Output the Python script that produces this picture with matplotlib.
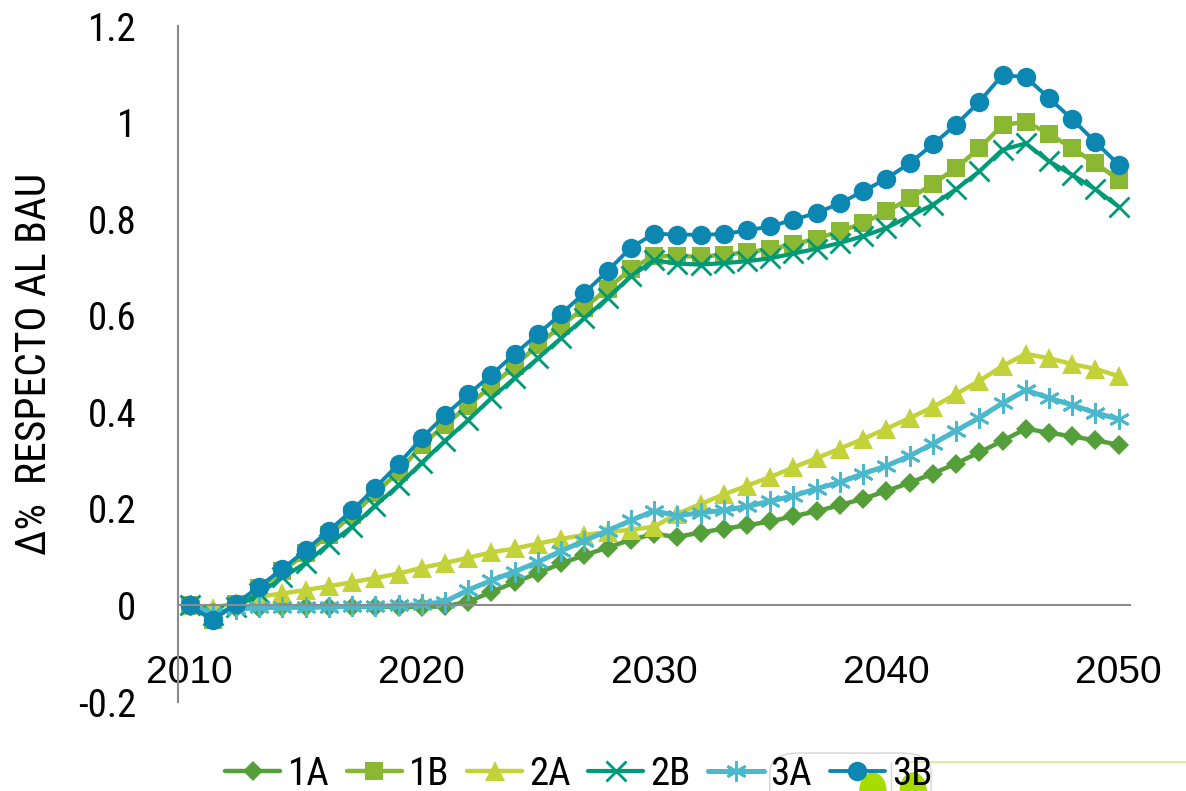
import matplotlib
matplotlib.use("Agg")
import matplotlib.pyplot as plt
from matplotlib.patches import Ellipse, FancyBboxPatch
from matplotlib.lines import Line2D

# ---- data -------------------------------------------------------------
years = list(range(2010, 2051))

s_1A = [0, -0.02, -0.006, -0.005, -0.004, -0.004, -0.003, -0.003, -0.003, -0.003,
        -0.003, -0.002, 0.008, 0.028, 0.048, 0.067, 0.087, 0.104, 0.12, 0.136,
        0.148, 0.142, 0.151, 0.159, 0.166, 0.174, 0.185, 0.195, 0.208, 0.221,
        0.237, 0.254, 0.273, 0.294, 0.317, 0.341, 0.366, 0.358, 0.35, 0.342, 0.333]

s_1B = [0, -0.03, 0.003, 0.036, 0.071, 0.108, 0.146, 0.187, 0.232, 0.277,
        0.332, 0.374, 0.414, 0.455, 0.496, 0.54, 0.579, 0.617, 0.656, 0.697,
        0.724, 0.723, 0.723, 0.726, 0.732, 0.738, 0.748, 0.76, 0.775, 0.792,
        0.816, 0.843, 0.873, 0.906, 0.947, 0.995, 1.002, 0.977, 0.947, 0.916, 0.882]

s_2A = [0, -0.005, 0.005, 0.018, 0.025, 0.032, 0.04, 0.048, 0.057, 0.066,
        0.078, 0.088, 0.099, 0.11, 0.118, 0.128, 0.138, 0.146, 0.152, 0.157,
        0.163, 0.19, 0.21, 0.23, 0.248, 0.266, 0.286, 0.305, 0.325, 0.345,
        0.366, 0.388, 0.411, 0.438, 0.465, 0.496, 0.521, 0.512, 0.5, 0.49, 0.475]

s_2B = [0, -0.02, -0.004, 0.025, 0.058, 0.088, 0.127, 0.163, 0.207, 0.249,
        0.296, 0.341, 0.384, 0.43, 0.471, 0.512, 0.554, 0.595, 0.637, 0.682,
        0.715, 0.708, 0.706, 0.709, 0.713, 0.719, 0.729, 0.739, 0.751, 0.765,
        0.782, 0.806, 0.83, 0.862, 0.899, 0.944, 0.957, 0.92, 0.892, 0.862, 0.826]

s_3A = [0, -0.015, -0.008, -0.004, -0.004, -0.003, -0.003, -0.002, -0.002, 0.0,
        0.002, 0.008, 0.032, 0.052, 0.07, 0.09, 0.113, 0.134, 0.155, 0.176,
        0.196, 0.186, 0.192, 0.197, 0.205, 0.216, 0.227, 0.242, 0.255, 0.273,
        0.289, 0.31, 0.335, 0.362, 0.389, 0.419, 0.446, 0.43, 0.415, 0.399, 0.386]

s_3B = [0, -0.03, 0.004, 0.039, 0.076, 0.114, 0.155, 0.197, 0.244, 0.293,
        0.347, 0.394, 0.437, 0.478, 0.521, 0.562, 0.604, 0.647, 0.693, 0.741,
        0.77, 0.768, 0.768, 0.769, 0.777, 0.785, 0.799, 0.813, 0.833, 0.858,
        0.884, 0.916, 0.955, 0.996, 1.043, 1.099, 1.094, 1.051, 1.007, 0.96, 0.913]

series_names = ["1A", "1B", "2A", "2B", "3A", "3B"]
series_values = [s_1A, s_1B, s_2A, s_2B, s_3A, s_3B]

x_ticks = [2010, 2020, 2030, 2040, 2050]
y_ticks = [-0.2, 0, 0.2, 0.4, 0.6, 0.8, 1.0, 1.2]
y_tick_labels = ["-0.2", "0", "0.2", "0.4", "0.6", "0.8", "1", "1.2"]
y_label = "Δ%  RESPECTO AL BAU"

# ---- styling ----------------------------------------------------------
NARROW = ["Roboto Condensed", "Liberation Sans Narrow", "DejaVu Sans Condensed",
          "Liberation Sans", "DejaVu Sans"]
plt.rcParams["font.family"] = NARROW
plt.rcParams["font.stretch"] = "condensed"

styles = {
    "1A": dict(color="#559F3B", marker="D", markersize=10.5, lw=3.2),
    "1B": dict(color="#8AB833", marker="s", markersize=12.5, lw=3.2),
    "2A": dict(color="#C4D23A", marker="^", markersize=14, lw=3.2),
    "2B": dict(color="#009A78", marker="x", markersize=14, lw=3.0, mew=2.0),
    "3A": dict(color="#4BB9CB", marker=(6, 2, 0), markersize=15, lw=3.6, mew=2.0),
    "3B": dict(color="#0B87B1", marker="o", markersize=14, lw=2.8),
}

fig = plt.figure(figsize=(11.86, 7.91), dpi=100)
ax = fig.add_axes([0.150, 0.1125, 0.803, 0.8545])

for name, vals in zip(series_names, series_values):
    st = styles[name]
    ax.plot(years, vals, color=st["color"], lw=st["lw"], marker=st["marker"],
            markersize=st["markersize"], markeredgewidth=st.get("mew", 0),
            markerfacecolor=st["color"], markeredgecolor=st["color"],
            label=name, solid_joinstyle="round", solid_capstyle="round")

ax.set_xlim(2009.5, 2050.5)
ax.set_ylim(-0.2, 1.2)

for side in ("top", "right"):
    ax.spines[side].set_visible(False)
ax.spines["left"].set_color("#8c8c8c")
ax.spines["left"].set_linewidth(1.5)
ax.spines["bottom"].set_position(("data", 0))
ax.spines["bottom"].set_color("#8c8c8c")
ax.spines["bottom"].set_linewidth(1.5)

ax.set_yticks(y_ticks)
ax.set_yticklabels(y_tick_labels)
ax.set_xticks(x_ticks)
ax.set_xticklabels([str(t) for t in x_ticks],
                   family=["Liberation Sans", "DejaVu Sans"], stretch="normal")
ax.tick_params(axis="y", length=0, pad=30, labelsize=28)
ax.tick_params(axis="x", length=0, pad=36, labelsize=28)

ax.set_ylabel(y_label, fontsize=30)
ax.yaxis.set_label_coords(-0.129, 0.50)

leg = fig.legend(loc="center", bbox_to_anchor=(0.488, 0.021), ncol=6,
                 frameon=False, fontsize=28, handlelength=1.42,
                 handletextpad=0.18, columnspacing=0.45, numpoints=1,
                 borderaxespad=0)

# stray shapes overlapping the lower-right of the legend area
fig.add_artist(FancyBboxPatch((0.649, -0.05), 0.136, 0.098,
                              boxstyle="round,pad=0,rounding_size=0.025",
                              transform=fig.transFigure, fill=False,
                              edgecolor="#d4d4d4", lw=1.0, zorder=1))
fig.add_artist(Line2D([0.751, 0.751], [0.0, 0.0367], transform=fig.transFigure,
                      color="#d4d4d4", lw=1.0, zorder=1))
fig.add_artist(Line2D([0.766, 1.0], [0.0367, 0.0367], transform=fig.transFigure,
                      color="#d5ea8c", lw=1.2, zorder=1))
for cx in (0.736, 0.770):
    fig.add_artist(Ellipse((cx, 0.0), 26 / 1186, 36 / 791,
                           transform=fig.transFigure, color="#a6dc00", zorder=1))

fig.savefig("out.png", dpi=100)
